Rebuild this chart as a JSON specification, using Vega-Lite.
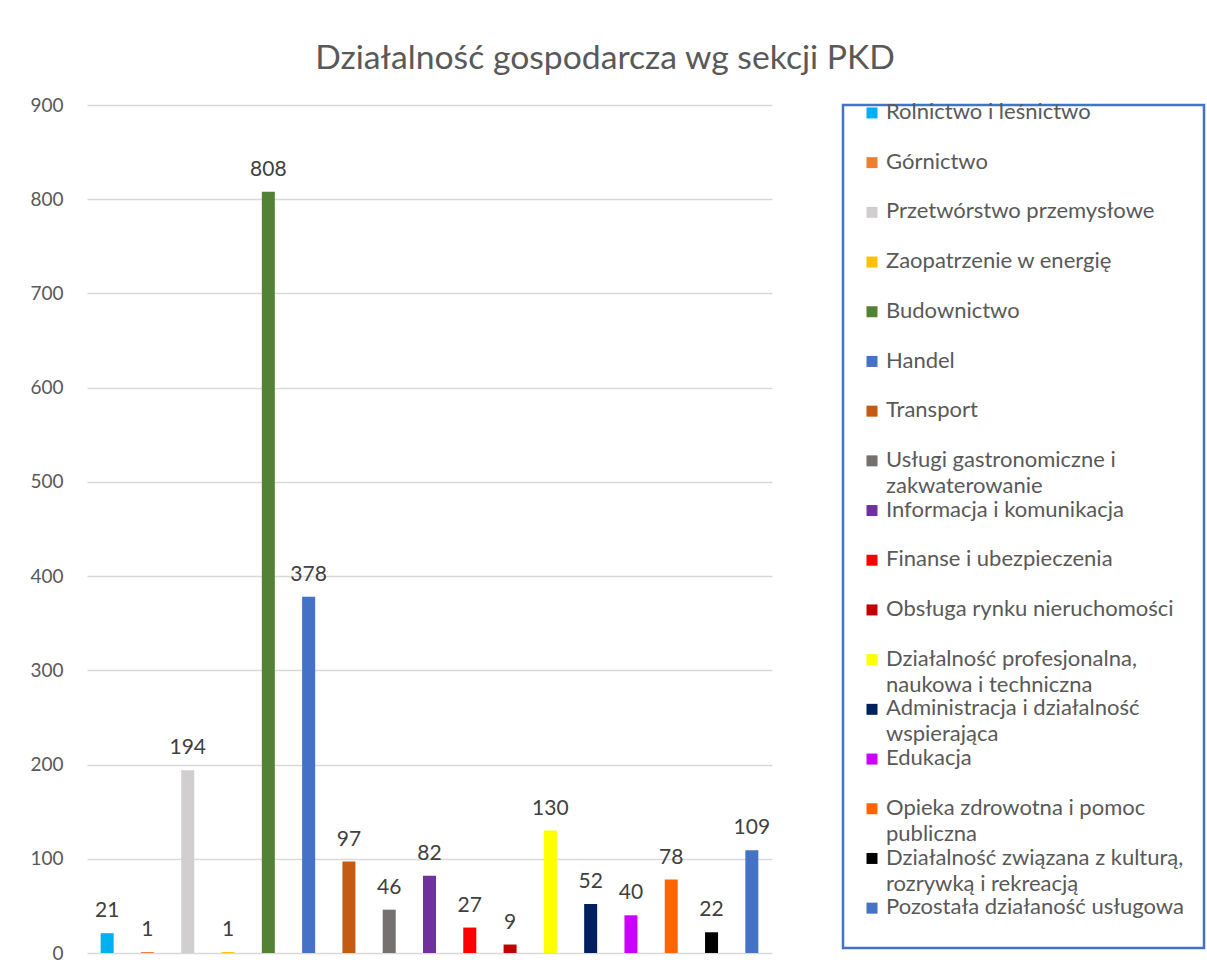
{
  "$schema": "https://vega.github.io/schema/vega-lite/v6.json",
  "width": 685,
  "height": 848,
  "padding": {"left": 5, "top": 42, "right": 0, "bottom": 0},
  "autosize": {"type": "pad"},
  "background": "white",
  "config": {
    "font": "Lato",
    "view": {"stroke": null},
    "style": {"guide-label": {"lineHeight": 26}},
    "legend": {"strokeColor": "#4472C4", "strokeWidth": 2.5, "fillColor": "white"}
  },
  "title": {
    "text": "Działalność gospodarcza wg sekcji PKD",
    "fontSize": 33.7,
    "font": "Lato",
    "fontWeight": "normal",
    "color": "#595959",
    "offset": 20,
    "anchor": "middle",
    "frame": "bounds"
  },
  "data": {
    "values": [
      {"sekcja": "Rolnictwo i leśnictwo", "liczba": 21},
      {"sekcja": "Górnictwo", "liczba": 1},
      {"sekcja": "Przetwórstwo przemysłowe", "liczba": 194},
      {"sekcja": "Zaopatrzenie w energię", "liczba": 1},
      {"sekcja": "Budownictwo", "liczba": 808},
      {"sekcja": "Handel", "liczba": 378},
      {"sekcja": "Transport", "liczba": 97},
      {"sekcja": "Usługi gastronomiczne i zakwaterowanie", "liczba": 46},
      {"sekcja": "Informacja i komunikacja", "liczba": 82},
      {"sekcja": "Finanse i ubezpieczenia", "liczba": 27},
      {"sekcja": "Obsługa rynku nieruchomości", "liczba": 9},
      {"sekcja": "Działalność profesjonalna, naukowa i techniczna", "liczba": 130},
      {"sekcja": "Administracja i działalność wspierająca", "liczba": 52},
      {"sekcja": "Edukacja", "liczba": 40},
      {"sekcja": "Opieka zdrowotna i pomoc publiczna", "liczba": 78},
      {"sekcja": "Działalność związana z kulturą, rozrywką i rekreacją", "liczba": 22},
      {"sekcja": "Pozostała działaność usługowa", "liczba": 109}
    ]
  },
  "encoding": {
    "x": {
      "field": "sekcja",
      "type": "nominal",
      "sort": null,
      "axis": null,
      "scale": {"paddingInner": 0.677, "paddingOuter": 0.339}
    },
    "y": {
      "field": "liczba",
      "type": "quantitative",
      "scale": {"domain": [0, 900]},
      "axis": {
        "title": null,
        "values": [0, 100, 200, 300, 400, 500, 600, 700, 800, 900],
        "domain": false,
        "ticks": false,
        "labelPadding": 24,
        "minExtent": 82,
        "labelFontSize": 19,
        "labelFont": "Lato",
        "labelColor": "#595959",
        "gridColor": "#d9d9d9",
        "gridWidth": 1.5
      }
    }
  },
  "layer": [
    {
      "mark": {"type": "bar"},
      "encoding": {
        "color": {
          "field": "sekcja",
          "type": "nominal",
          "sort": null,
          "scale": {
            "range": ["#00B0F0", "#ED7D31", "#D0CECE", "#FFC000", "#548235", "#4472C4", "#C55A11", "#767171", "#7030A0", "#FF0000", "#C00000", "#FFFF00", "#002060", "#CC00FF", "#FF6600", "#000000", "#4472C4"]
          },
          "legend": {
            "title": null,
            "orient": "right",
            "offset": 71,
            "padding": 3,
            "labelFont": "Lato",
            "labelFontSize": 22,
            "labelColor": "#595959",
            "labelLimit": 450,
            "labelBaseline": "alphabetic",
            "labelOffset": 3,
            "symbolType": "M-1,-2.1H1V-0.1H-1Z",
            "symbolSize": 121,
            "symbolStrokeWidth": 0,
            "symbolOffset": 15,
            "gridAlign": "all",
            "rowPadding": 1.7,
            "labelExpr": "datum.label == 'Usługi gastronomiczne i zakwaterowanie' ? ['Usługi gastronomiczne i', 'zakwaterowanie'] : datum.label == 'Działalność profesjonalna, naukowa i techniczna' ? ['Działalność profesjonalna,', 'naukowa i techniczna'] : datum.label == 'Administracja i działalność wspierająca' ? ['Administracja i działalność', 'wspierająca'] : datum.label == 'Opieka zdrowotna i pomoc publiczna' ? ['Opieka zdrowotna i pomoc', 'publiczna'] : datum.label == 'Działalność związana z kulturą, rozrywką i rekreacją' ? ['Działalność związana z kulturą,', 'rozrywką i rekreacją'] : datum.label == 'Pozostała działaność usługowa' ? ['Pozostała działaność usługowa\u00a0\u00a0\u00a0\u200b', ''] : datum.label"
          }
        }
      }
    },
    {
      "mark": {"type": "text", "baseline": "bottom", "dy": -12, "fontSize": 21, "font": "Lato", "color": "#404040"},
      "encoding": {"text": {"field": "liczba", "type": "quantitative"}}
    }
  ]
}
